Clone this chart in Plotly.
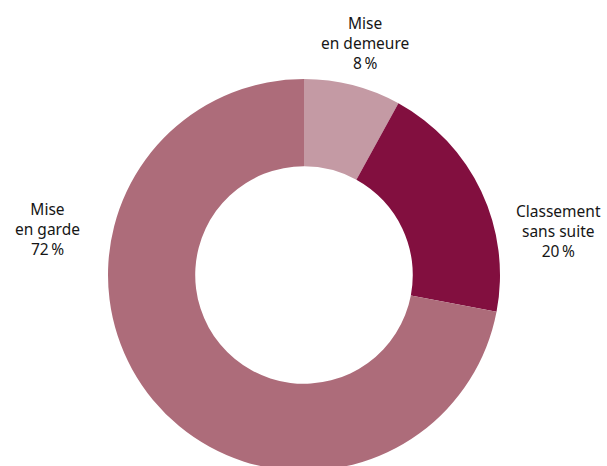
import plotly.graph_objects as go

labels = ["Mise<br>en demeure", "Classement<br>sans suite", "Mise<br>en garde"]
values = [8, 20, 72]
colors = ["#c49aa4", "#820f3f", "#ad6c7a"]

W, H = 607, 472
cx, cy, r = 304, 275, 196  # pixel geometry (from figure top-left)

# label anchor positions (pixels, center of text block)
label_pos = [(365, 43), (558, 231), (47, 229)]

fig = go.Figure(go.Pie(
    labels=labels,
    values=values,
    marker=dict(colors=colors, line=dict(width=0)),
    hole=0.555,
    sort=False,
    direction="clockwise",
    rotation=0,
    textinfo="none",
    hoverinfo="label+percent",
    domain=dict(x=[(cx - r) / W, (cx + r) / W], y=[(H - cy - r) / H, (H - cy + r) / H]),
    showlegend=False,
))

annotations = []
for lab, v, (px, py) in zip(labels, values, label_pos):
    annotations.append(dict(
        text=f"{lab}<br>{v}\u202f%",
        x=px / W, y=1 - py / H, xref="paper", yref="paper",
        xanchor="center", yanchor="middle", showarrow=False, align="center",
        font=dict(family="Noto Sans, sans-serif", size=15.5, color="#161616"),
    ))

fig.update_layout(
    width=W, height=H,
    margin=dict(l=0, r=0, t=0, b=0),
    paper_bgcolor="white",
    plot_bgcolor="white",
    annotations=annotations,
)

fig.write_html(
    "out.html",
    config={"displayModeBar": False},
    post_script="document.body.style.margin='0';document.body.style.overflow='hidden';",
)
